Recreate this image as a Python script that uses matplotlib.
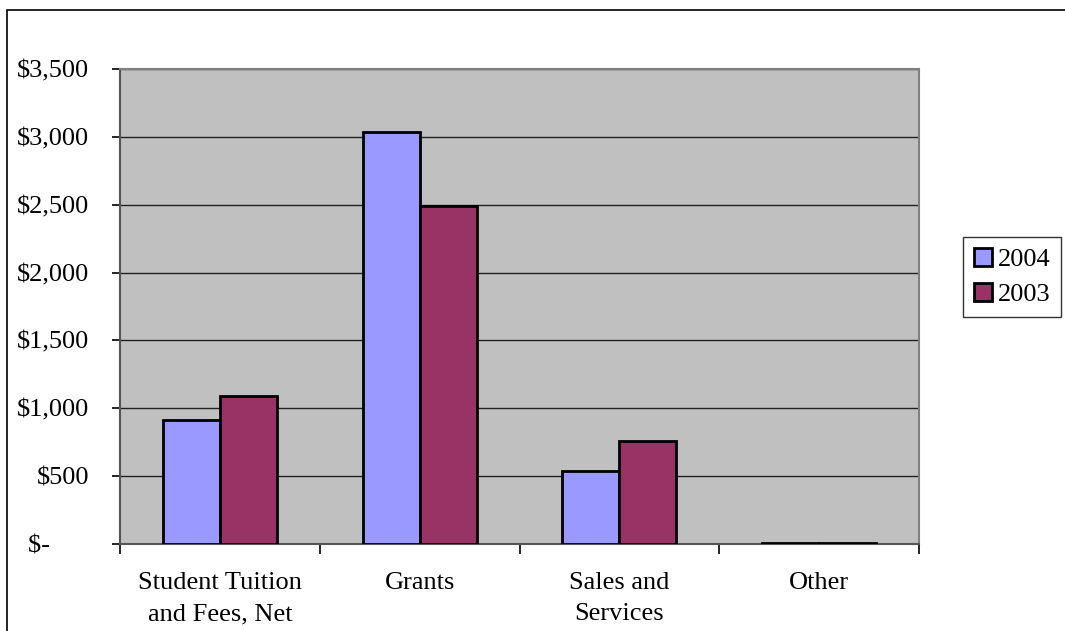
import matplotlib.pyplot as plt
import numpy as np
from matplotlib.patches import Rectangle
from matplotlib.ticker import FuncFormatter

plt.rcParams['font.family'] = ['Liberation Serif', 'DejaVu Serif']

categories = ["Student Tuition\nand Fees, Net", "Grants", "Sales and\nServices", "Other"]
series_names = ["2004", "2003"]
values_2004 = [912, 3035, 540, 6]
values_2003 = [1092, 2492, 760, 6]
colors = ["#9999FF", "#993366"]


def money(v, pos):
    # accounting style: zero shows as a dash, left of the other labels
    if v == 0:
        return "$-" + " " * 6
    return "${:,.0f}".format(v)


fig = plt.figure(figsize=(10.65, 6.31), dpi=100)
ax = fig.add_axes([120 / 1065, 87 / 631, 799 / 1065, 475 / 631])
ax.set_facecolor("#C0C0C0")

x = np.arange(len(categories))
w = 1 / 3.5
ax.bar(x - w / 2, values_2004, w, color=colors[0], edgecolor="black", linewidth=2,
       label=series_names[0], zorder=3)
ax.bar(x + w / 2, values_2003, w, color=colors[1], edgecolor="black", linewidth=2,
       label=series_names[1], zorder=3)

ax.set_xlim(-0.5, len(categories) - 0.5)
ax.set_ylim(0, 3500)
ax.set_yticks(np.arange(0, 3501, 500))
ax.yaxis.set_major_formatter(FuncFormatter(money))
ax.grid(axis="y", color="#222222", linewidth=1, zorder=1)

ax.set_xticks(x)
ax.set_xticklabels(categories, linespacing=1.55)
ax.set_xticks(np.arange(-0.5, len(categories), 1), minor=True)
ax.tick_params(axis="x", which="major", length=0, pad=20, labelsize=19)
ax.tick_params(axis="x", which="minor", length=7, width=1.2, color="black")
ax.tick_params(axis="y", length=6, width=1.2, color="black", labelsize=19, pad=16)

for s in ["top", "right"]:
    ax.spines[s].set_color("#808080")
    ax.spines[s].set_linewidth(1.5)
for s in ["left", "bottom"]:
    ax.spines[s].set_color("#555555")
    ax.spines[s].set_linewidth(1.5)

leg = ax.legend(loc="center", bbox_to_anchor=(1012 / 1065, 1 - 277 / 631),
                bbox_transform=fig.transFigure, fontsize=19, frameon=True,
                fancybox=False, edgecolor="black", handlelength=0.7,
                handleheight=0.7, handletextpad=0.2, borderpad=0.4,
                labelspacing=0.45)
leg.get_frame().set_linewidth(1)

fig.patches.append(Rectangle((7 / 1065, -0.1), 1.2, 1 - 10 / 631 + 0.1,
                             transform=fig.transFigure, fill=False,
                             edgecolor="black", linewidth=1.2))

fig.savefig("out.png", dpi=100)
